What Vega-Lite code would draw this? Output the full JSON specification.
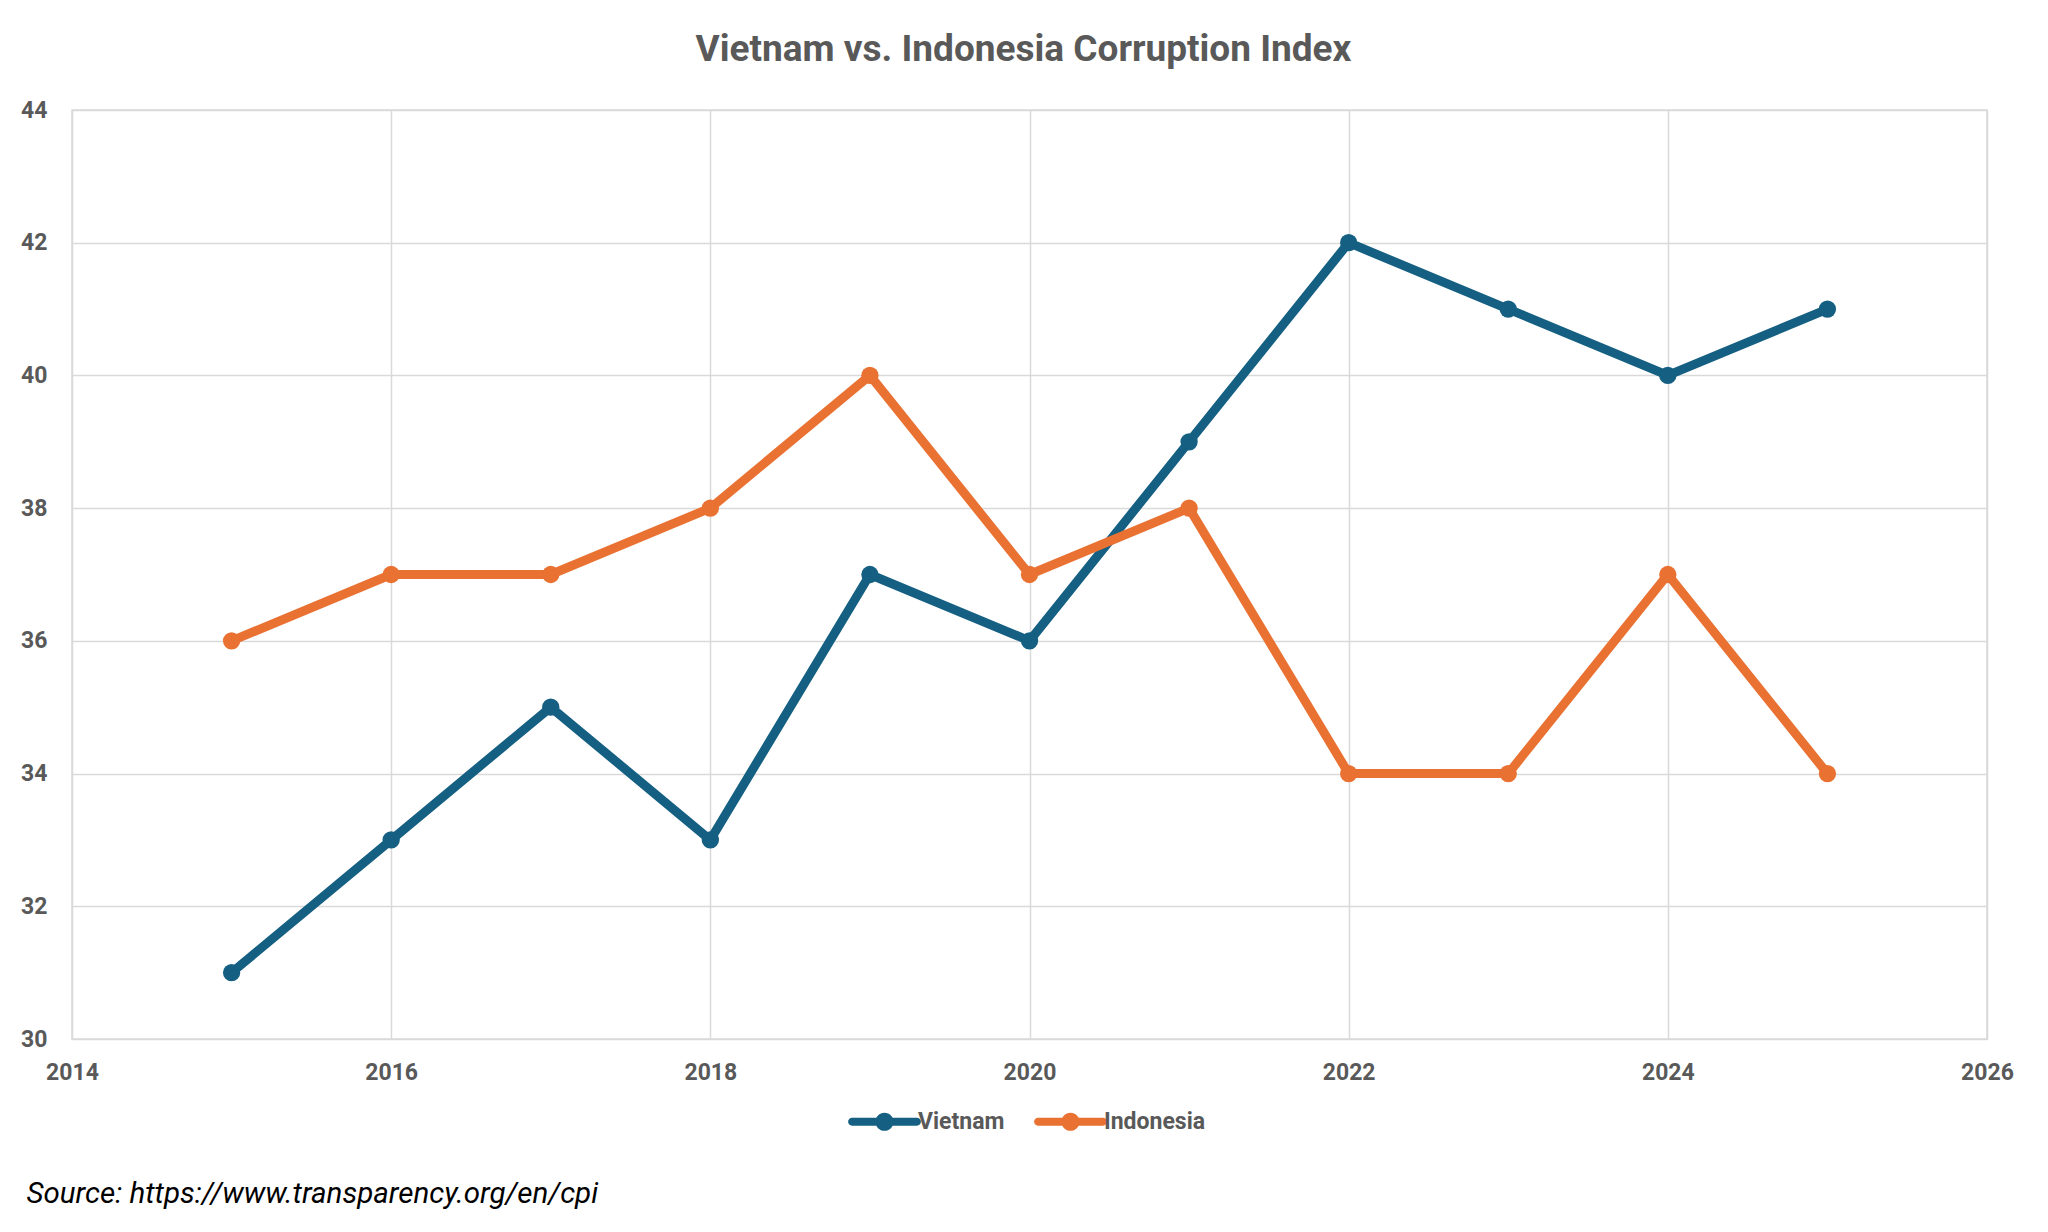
{
  "$schema": "https://vega.github.io/schema/vega-lite/v6.json",
  "autosize": "none",
  "width": 1915,
  "height": 929,
  "padding": {"left": 72, "top": 110, "right": 61, "bottom": 193},
  "background": "white",
  "title": {
    "text": "Vietnam vs. Indonesia Corruption Index",
    "font": "Roboto",
    "fontSize": 37,
    "fontWeight": "bold",
    "color": "#595959",
    "anchor": "middle",
    "offset": 30,
    "dx": -6
  },
  "data": {
    "values": [
      {"year": 2015, "country": "Vietnam", "score": 31},
      {"year": 2016, "country": "Vietnam", "score": 33},
      {"year": 2017, "country": "Vietnam", "score": 35},
      {"year": 2018, "country": "Vietnam", "score": 33},
      {"year": 2019, "country": "Vietnam", "score": 37},
      {"year": 2020, "country": "Vietnam", "score": 36},
      {"year": 2021, "country": "Vietnam", "score": 39},
      {"year": 2022, "country": "Vietnam", "score": 42},
      {"year": 2023, "country": "Vietnam", "score": 41},
      {"year": 2024, "country": "Vietnam", "score": 40},
      {"year": 2025, "country": "Vietnam", "score": 41},
      {"year": 2015, "country": "Indonesia", "score": 36},
      {"year": 2016, "country": "Indonesia", "score": 37},
      {"year": 2017, "country": "Indonesia", "score": 37},
      {"year": 2018, "country": "Indonesia", "score": 38},
      {"year": 2019, "country": "Indonesia", "score": 40},
      {"year": 2020, "country": "Indonesia", "score": 37},
      {"year": 2021, "country": "Indonesia", "score": 38},
      {"year": 2022, "country": "Indonesia", "score": 34},
      {"year": 2023, "country": "Indonesia", "score": 34},
      {"year": 2024, "country": "Indonesia", "score": 37},
      {"year": 2025, "country": "Indonesia", "score": 34}
    ]
  },
  "encoding": {
    "x": {
      "field": "year",
      "type": "quantitative",
      "scale": {"domain": [2014, 2026], "nice": false, "zero": false},
      "axis": {
        "values": [2014, 2016, 2018, 2020, 2022, 2024, 2026],
        "format": "d",
        "labelFlush": false,
        "labelBound": false,
        "labelOverlap": false,
        "title": "Source: https://www.transparency.org/en/cpi",
        "titleFont": "Roboto",
        "titleFontSize": 29.5,
        "titleFontStyle": "italic",
        "titleFontWeight": "normal",
        "titleColor": "#000000",
        "titleAnchor": "start",
        "titleAlign": "left",
        "titleBaseline": "alphabetic",
        "titleX": -46,
        "titleY": 163,
        "labelPadding": 22
      }
    },
    "y": {
      "field": "score",
      "type": "quantitative",
      "scale": {"domain": [30, 44], "nice": false, "zero": false},
      "axis": {
        "values": [30, 32, 34, 36, 38, 40, 42, 44],
        "title": null,
        "labelPadding": 25
      }
    },
    "color": {
      "field": "country",
      "type": "nominal",
      "scale": {"domain": ["Vietnam", "Indonesia"], "range": ["#156082", "#E97132"]},
      "legend": {
        "title": null,
        "orient": "none",
        "direction": "horizontal",
        "legendX": 780,
        "legendY": 979,
        "symbolType": "M-1,-0.12L1,-0.12A0.12,0.12 0 0 1 1,0.12L-1,0.12A0.12,0.12 0 0 1 -1,-0.12ZM0.28,0A0.28,0.28 0 1 1 -0.28,0A0.28,0.28 0 1 1 0.28,0Z",
        "symbolSize": 4225,
        "symbolStrokeWidth": 0,
        "labelFont": "Roboto",
        "labelFontSize": 23,
        "labelFontWeight": "bold",
        "labelColor": "#595959",
        "labelOffset": 1,
        "columnPadding": 29,
        "encode": {
          "symbols": {"update": {"fill": {"scale": "color", "field": "value"}, "opacity": {"value": 1}}}
        }
      }
    }
  },
  "layer": [
    {
      "mark": {"type": "line", "strokeWidth": 9, "strokeCap": "round", "strokeJoin": "round"}
    },
    {
      "mark": {"type": "point", "filled": true, "size": 300, "opacity": 1}
    }
  ],
  "config": {
    "view": {"stroke": "#d9d9d9", "strokeWidth": 1.5},
    "axis": {
      "domain": false,
      "ticks": false,
      "tickSize": 0,
      "grid": true,
      "gridColor": "#d9d9d9",
      "gridWidth": 1.5,
      "labelFont": "Roboto",
      "labelFontSize": 23,
      "labelFontWeight": "bold",
      "labelColor": "#595959"
    }
  }
}
